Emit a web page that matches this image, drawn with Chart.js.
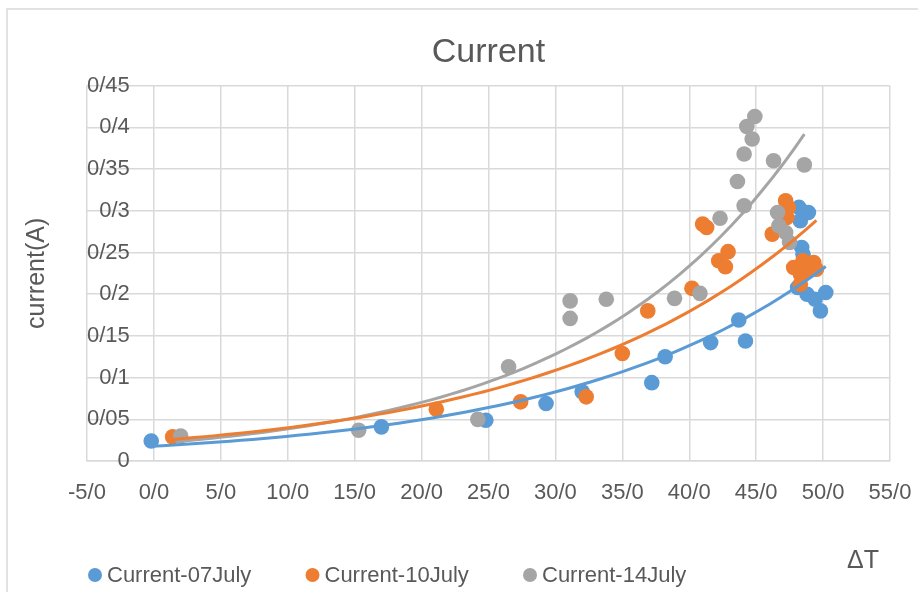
<!DOCTYPE html>
<html>
<head>
<meta charset="utf-8">
<script src="https://cdn.jsdelivr.net/npm/chart.js@4/dist/chart.umd.min.js"></script>
<style>
  html, body { margin: 0; padding: 0; background: #fff; }
  #wrap { width: 918px; height: 592px; }
</style>
</head>
<body>
<div id="wrap"><canvas id="chart"></canvas></div>
<script>
// measured current vs temperature difference, three days
const july07X = [-0.2, 17.0, 24.8, 29.3, 32.0, 37.2, 38.2, 41.6, 43.7, 44.2, 48.2, 48.9, 48.3, 48.4, 48.5, 48.1, 48.8, 49.4, 50.2, 49.8];
const july07Y = [0.024, 0.041, 0.049, 0.069, 0.083, 0.094, 0.125, 0.142, 0.169, 0.144, 0.304, 0.298, 0.288, 0.256, 0.248, 0.208, 0.200, 0.194, 0.202, 0.180];

const july10X = [1.4, 21.1, 27.4, 32.3, 35.0, 36.9, 40.2, 41.0, 41.3, 42.2, 42.7, 42.9, 46.2, 47.2, 47.4, 47.3, 47.8, 48.5, 49.3, 49.5, 48.3, 48.3, 48.8];
const july10Y = [0.029, 0.062, 0.071, 0.077, 0.129, 0.180, 0.207, 0.284, 0.280, 0.240, 0.233, 0.251, 0.272, 0.312, 0.304, 0.292, 0.232, 0.240, 0.238, 0.230, 0.224, 0.212, 0.228];

const july14X = [2.0, 15.3, 24.2, 26.5, 31.1, 31.1, 33.8, 38.9, 40.8, 42.3, 43.6, 44.1, 44.1, 44.3, 44.7, 44.9, 46.3, 48.6, 46.6, 46.7, 47.2, 47.5];
const july14Y = [0.030, 0.037, 0.050, 0.113, 0.192, 0.171, 0.194, 0.195, 0.201, 0.291, 0.335, 0.306, 0.368, 0.401, 0.386, 0.413, 0.360, 0.355, 0.298, 0.282, 0.274, 0.262];

const seriesNames = ['Current-07July', 'Current-10July', 'Current-14July'];
const seriesColors = ['#5B9BD5', '#ED7D31', '#A5A5A5'];

const xTickLabels = ['-5/0', '0/0', '5/0', '10/0', '15/0', '20/0', '25/0', '30/0', '35/0', '40/0', '45/0', '50/0', '55/0'];
const yTickLabels = ['0', '0/05', '0/1', '0/15', '0/2', '0/25', '0/3', '0/35', '0/4', '0/45'];

const FONT = "'Liberation Sans', Arial, sans-serif";
const TEXT = '#595959';
const GRID = '#d9d9d9';

function toPoints(xs, ys) {
  return xs.map((x, i) => ({ x: x, y: ys[i] }));
}

// exponential trendline y = a*e^(bx), least squares on ln(y)
function expTrend(xs, ys, steps = 60) {
  const n = xs.length;
  const ly = ys.map(Math.log);
  const mx = xs.reduce((s, v) => s + v, 0) / n;
  const my = ly.reduce((s, v) => s + v, 0) / n;
  let sxy = 0, sxx = 0;
  for (let i = 0; i < n; i++) {
    sxy += (xs[i] - mx) * (ly[i] - my);
    sxx += (xs[i] - mx) * (xs[i] - mx);
  }
  const b = sxy / sxx;
  const a = Math.exp(my - b * mx);
  const lo = Math.min(...xs), hi = Math.max(...xs);
  const pts = [];
  for (let i = 0; i <= steps; i++) {
    const x = lo + (hi - lo) * i / steps;
    pts.push({ x: x, y: a * Math.exp(b * x) });
  }
  return pts;
}

const seriesX = [july07X, july10X, july14X];
const seriesY = [july07Y, july10Y, july14Y];

const trendSets = seriesX.map((xs, i) => ({
  type: 'line',
  data: expTrend(xs, seriesY[i]),
  borderColor: seriesColors[i],
  borderWidth: 3,
  pointRadius: 0,
  fill: false,
  tension: 0,
  order: 0
}));

const scatterSets = seriesX.map((xs, i) => ({
  label: seriesNames[i],
  data: toPoints(xs, seriesY[i]),
  backgroundColor: seriesColors[i],
  borderWidth: 0,
  pointRadius: 7.8,
  pointHoverRadius: 7.8,
  order: 3 - i
}));

// frame, the ΔT caption and the bottom legend row
const chartText = {
  id: 'chartText',
  beforeDraw(chart) {
    const { ctx } = chart;
    ctx.save();
    ctx.fillStyle = '#fff';
    ctx.fillRect(0, 0, chart.width, chart.height);
    ctx.strokeStyle = GRID;
    ctx.lineWidth = 1.5;
    ctx.beginPath();
    ctx.moveTo(7, chart.height + 5);
    ctx.lineTo(7, 9);
    ctx.lineTo(chart.width + 5, 9);
    ctx.stroke();
    ctx.restore();
  },
  afterDraw(chart) {
    const { ctx } = chart;
    ctx.save();
    ctx.fillStyle = TEXT;
    ctx.textBaseline = 'middle';
    ctx.font = '25px ' + FONT;
    ctx.textAlign = 'center';
    ctx.fillText('\u0394T', 863, 561);

    ctx.font = '22px ' + FONT;
    ctx.textAlign = 'left';
    scatterSets.forEach((ds, i) => {
      const x = 88 + i * 217.5;
      ctx.fillStyle = ds.backgroundColor;
      ctx.beginPath();
      ctx.arc(x + 7, 575, 7, 0, Math.PI * 2);
      ctx.fill();
      ctx.fillStyle = TEXT;
      ctx.fillText(ds.label, x + 19, 576);
    });
    ctx.restore();
  }
};

new Chart(document.getElementById('chart'), {
  type: 'scatter',
  data: { datasets: trendSets.concat(scatterSets) },
  options: {
    responsive: true,
    maintainAspectRatio: false,
    animation: false,
    layout: { padding: { top: 0, left: 0, right: 28, bottom: 67 } },
    plugins: {
      legend: { display: false },
      tooltip: { enabled: false },
      title: {
        display: true,
        fullSize: false,
        text: 'Current',
        color: TEXT,
        font: { family: FONT, size: 34, weight: 'normal' },
        padding: { top: 32.6, bottom: 12.2 }
      }
    },
    scales: {
      x: {
        type: 'linear',
        min: -5,
        max: 55,
        grid: { color: GRID, lineWidth: 1.5, drawTicks: false },
        border: { color: GRID, width: 1.5 },
        ticks: {
          stepSize: 5,
          padding: 6,
          color: TEXT,
          font: { family: FONT, size: 22, lineHeight: 2.36 },
          callback: (v, i) => xTickLabels[i]
        }
      },
      y: {
        type: 'linear',
        position: 'left',
        min: 0,
        max: 0.45,
        grid: { color: GRID, lineWidth: 1.5, drawTicks: false },
        border: { display: false },
        title: {
          display: true,
          text: 'current(A)',
          color: TEXT,
          font: { family: FONT, size: 25 },
          padding: { top: 22.5, bottom: 34.5 }
        },
        ticks: {
          stepSize: 0.05,
          mirror: true,
          crossAlign: 'far',
          padding: 0,
          color: TEXT,
          font: { family: FONT, size: 22 },
          callback: (v, i) => yTickLabels[i]
        }
      }
    }
  },
  plugins: [chartText]
});
</script>
</body>
</html>
